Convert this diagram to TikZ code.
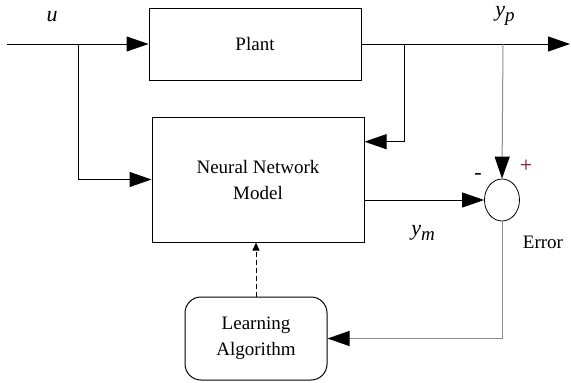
\documentclass[tikz,border=0pt]{standalone}
\usepackage{fontspec}
\setmainfont{Liberation Serif}
\usepackage{tikz}
\usetikzlibrary{shapes.geometric, arrows.meta, positioning, calc}
\definecolor{errcolor}{RGB}{140, 140, 140}
\definecolor{pluscolor}{RGB}{110, 20, 40}
\tikzstyle{block} = [rectangle, draw=black, line width=1pt, text centered, font=\fontsize{19}{26}\selectfont]
\tikzstyle{learnbox} = [rectangle, rounded corners=16pt, draw=black, line width=1pt, text centered, align=center, font=\fontsize{19}{26}\selectfont]
\tikzstyle{summer} = [ellipse, draw=black, line width=0.8pt, minimum width=35pt, minimum height=42pt]
\tikzstyle{arrow} = [line width=1pt, -{Triangle[length=22pt,width=15pt,color=black]}]
\tikzstyle{label} = [font=\fontsize{22}{26}\selectfont]
\newcommand{\sig}[2]{\textit{#1}\raisebox{-0.45ex}{\fontsize{19}{22}\selectfont\textit{#2}}}

\begin{document}
\begin{tikzpicture}[x=1pt, y=-1pt]
    \useasboundingbox (0,0) rectangle (571,383);

    % Blocks
    \node[block, minimum width=212pt, minimum height=72pt] (plant) at (255,44) {Plant};
    \node[block, minimum width=212pt, minimum height=125pt, align=center] (nnmodel) at (258,179.5) {Neural Network\\Model};
    \node[summer] (sum) at (502,200) {};
    \node[learnbox, minimum width=142pt, minimum height=83pt] (learn) at (256,338.5) {Learning\\Algorithm};

    % Branch points
    \coordinate (in) at (7,44);
    \coordinate (tapu) at (78,44);
    \coordinate (tapnn) at (404,44);
    \coordinate (tapsum) at (503,44);
    \coordinate (out) at (570,44);

    % Arrows
    \draw[arrow] (in) -- (plant.west);
    \draw[arrow] (tapu) |- (nnmodel.west);
    \draw[arrow] (plant.east) -- (out);
    \draw[arrow] (tapnn) |- ($(nnmodel.north east)!0.2!(nnmodel.south east)$);
    \draw[arrow, draw=errcolor] (tapsum) -- (sum.north);
    \draw[arrow] (nnmodel.east |- sum.west) -- (sum.west);
    \draw[arrow, draw=errcolor] (sum.south) |- (learn.east);
    \draw[line width=0.7pt, dash pattern=on 5pt off 3pt, -{Triangle[length=8pt,width=7pt]}] (learn.north) -- (learn.north |- nnmodel.south);

    % Labels
    \node[label] (ulab) at (52,17) {\textit{u}};
    \node[label] (yplab) at (505,16) {\sig{y}{p}};
    \node[label] (ymlab) at (423,233) {\sig{y}{m}};
    \node[label] (minus) at (478,176) {-};
    \node[label, text=pluscolor] (plus) at (526,166) {+};
    \node[block, draw=none] (errlab) at (543,242) {Error};
\end{tikzpicture}
\end{document}
